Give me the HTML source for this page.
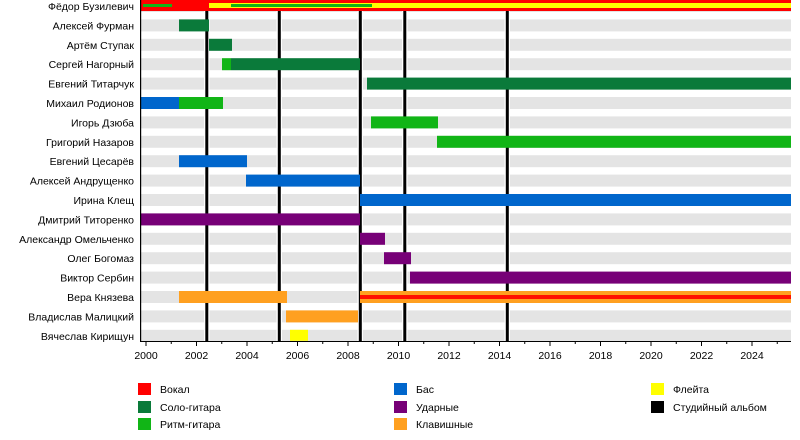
<!DOCTYPE html>
<html><head><meta charset="utf-8"><style>
html,body{margin:0;padding:0;background:#fff;width:800px;height:440px;overflow:hidden}
svg{display:block;font-family:"Liberation Sans",sans-serif;font-size:10.5px}
</style></head><body>
<svg width="800" height="440" viewBox="0 0 800 440">
<g fill="#e4e4e4">
<rect x="141" y="0" width="650" height="12"/><rect x="141" y="19.4" width="650" height="12"/><rect x="141" y="38.8" width="650" height="12"/><rect x="141" y="58.2" width="650" height="12"/><rect x="141" y="77.6" width="650" height="12"/><rect x="141" y="97" width="650" height="12"/><rect x="141" y="116.4" width="650" height="12"/><rect x="141" y="135.8" width="650" height="12"/><rect x="141" y="155.2" width="650" height="12"/><rect x="141" y="174.6" width="650" height="12"/><rect x="141" y="194" width="650" height="12"/><rect x="141" y="213.4" width="650" height="12"/><rect x="141" y="232.8" width="650" height="12"/><rect x="141" y="252.2" width="650" height="12"/><rect x="141" y="271.6" width="650" height="12"/><rect x="141" y="291" width="650" height="12"/><rect x="141" y="310.4" width="650" height="12"/><rect x="141" y="329.8" width="650" height="12"/>
</g>
<g fill="#fff">
<rect x="204" y="0" width="5.5" height="341"/><rect x="276.5" y="0" width="5.5" height="341"/><rect x="357.5" y="0" width="5.5" height="341"/><rect x="402" y="0" width="5.5" height="341"/><rect x="504.5" y="0" width="5.5" height="341"/>
</g>
<g fill="#000">
<rect x="205.3" y="10" width="3" height="331"/><rect x="277.8" y="10" width="3" height="331"/><rect x="358.8" y="10" width="3" height="331"/><rect x="403.3" y="10" width="3" height="331"/><rect x="505.8" y="10" width="3" height="331"/>
</g>
<g>
<rect x="141" y="0" width="650" height="11" fill="#ff0000"/>
<rect x="143" y="4" width="29" height="3" fill="#11b516"/>
<rect x="209" y="3" width="582" height="5" fill="#ffff00"/>
<rect x="231" y="4" width="141" height="3" fill="#11b516"/>
<rect x="179" y="19.4" width="30" height="12" fill="#0a7a3a"/>
<rect x="209" y="38.8" width="23" height="12" fill="#0a7a3a"/>
<rect x="222" y="58.2" width="9" height="12" fill="#11b516"/>
<rect x="231" y="58.2" width="129" height="12" fill="#0a7a3a"/>
<rect x="367" y="77.6" width="424" height="12" fill="#0a7a3a"/>
<rect x="141" y="97" width="38" height="12" fill="#0066cc"/>
<rect x="179" y="97" width="44" height="12" fill="#11b516"/>
<rect x="371" y="116.4" width="67" height="12" fill="#11b516"/>
<rect x="437" y="135.8" width="354" height="12" fill="#11b516"/>
<rect x="179" y="155.2" width="68" height="12" fill="#0066cc"/>
<rect x="246" y="174.6" width="114" height="12" fill="#0066cc"/>
<rect x="360" y="194" width="431" height="12" fill="#0066cc"/>
<rect x="141" y="213.4" width="219" height="12" fill="#770077"/>
<rect x="360" y="232.8" width="25" height="12" fill="#770077"/>
<rect x="384" y="252.2" width="27" height="12" fill="#770077"/>
<rect x="410" y="271.6" width="381" height="12" fill="#770077"/>
<rect x="179" y="291" width="108" height="12" fill="#ffa020"/>
<rect x="360" y="291" width="431" height="12" fill="#ffa020"/>
<rect x="360" y="295" width="431" height="4" fill="#ff1000"/>
<rect x="286" y="310.4" width="72" height="12" fill="#ffa020"/>
<rect x="290" y="329.8" width="18" height="11" fill="#ffff00"/>
</g>
<rect x="140" y="0" width="1.2" height="342" fill="#000"/>
<rect x="140" y="341" width="651" height="1" fill="#000"/>
<g stroke="#000" stroke-width="1">
<line x1="146" y1="341" x2="146" y2="346"/><line x1="171.25" y1="341" x2="171.25" y2="344"/>
<line x1="196.5" y1="341" x2="196.5" y2="346"/><line x1="221.75" y1="341" x2="221.75" y2="344"/>
<line x1="247" y1="341" x2="247" y2="346"/><line x1="272.25" y1="341" x2="272.25" y2="344"/>
<line x1="297.5" y1="341" x2="297.5" y2="346"/><line x1="322.75" y1="341" x2="322.75" y2="344"/>
<line x1="348" y1="341" x2="348" y2="346"/><line x1="373.25" y1="341" x2="373.25" y2="344"/>
<line x1="398.5" y1="341" x2="398.5" y2="346"/><line x1="423.75" y1="341" x2="423.75" y2="344"/>
<line x1="449" y1="341" x2="449" y2="346"/><line x1="474.25" y1="341" x2="474.25" y2="344"/>
<line x1="499.5" y1="341" x2="499.5" y2="346"/><line x1="524.75" y1="341" x2="524.75" y2="344"/>
<line x1="550" y1="341" x2="550" y2="346"/><line x1="575.25" y1="341" x2="575.25" y2="344"/>
<line x1="600.5" y1="341" x2="600.5" y2="346"/><line x1="625.75" y1="341" x2="625.75" y2="344"/>
<line x1="651" y1="341" x2="651" y2="346"/><line x1="676.25" y1="341" x2="676.25" y2="344"/>
<line x1="701.5" y1="341" x2="701.5" y2="346"/><line x1="726.75" y1="341" x2="726.75" y2="344"/>
<line x1="752" y1="341" x2="752" y2="346"/><line x1="777.25" y1="341" x2="777.25" y2="344"/>
</g>
<g text-anchor="middle" fill="#000">
<text x="146" y="359">2000</text><text x="196.5" y="359">2002</text><text x="247" y="359">2004</text><text x="297.5" y="359">2006</text><text x="348" y="359">2008</text><text x="398.5" y="359">2010</text><text x="449" y="359">2012</text><text x="499.5" y="359">2014</text><text x="550" y="359">2016</text><text x="600.5" y="359">2018</text><text x="651" y="359">2020</text><text x="701.5" y="359">2022</text><text x="752" y="359">2024</text>
</g>
<g text-anchor="end" fill="#000">
<text x="134" y="10">Фёдор Бузилевич</text>
<text x="134" y="29.4">Алексей Фурман</text>
<text x="134" y="48.8">Артём Ступак</text>
<text x="134" y="68.2">Сергей Нагорный</text>
<text x="134" y="87.6">Евгений Титарчук</text>
<text x="134" y="107">Михаил Родионов</text>
<text x="134" y="126.4">Игорь Дзюба</text>
<text x="134" y="145.8">Григорий Назаров</text>
<text x="134" y="165.2">Евгений Цесарёв</text>
<text x="134" y="184.6">Алексей Андрущенко</text>
<text x="134" y="204">Ирина Клещ</text>
<text x="134" y="223.4">Дмитрий Титоренко</text>
<text x="134" y="242.8">Александр Омельченко</text>
<text x="134" y="262.2">Олег Богомаз</text>
<text x="134" y="281.6">Виктор Сербин</text>
<text x="134" y="301">Вера Князева</text>
<text x="134" y="320.4">Владислав Малицкий</text>
<text x="134" y="339.8">Вячеслав Кирищун</text>
</g>
<rect x="138" y="383" width="13" height="12" fill="#ff0000"/>
<rect x="138" y="401" width="13" height="12" fill="#0a7a3a"/>
<rect x="138" y="418" width="13" height="12" fill="#11b516"/>
<rect x="394" y="383" width="13" height="12" fill="#0066cc"/>
<rect x="394" y="401" width="13" height="12" fill="#770077"/>
<rect x="394" y="418" width="13" height="12" fill="#ffa020"/>
<rect x="651" y="383" width="13" height="12" fill="#ffff00"/>
<rect x="651" y="401" width="13" height="12" fill="#000"/>
<g fill="#000">
<text x="160" y="393">Вокал</text><text x="160" y="411">Соло-гитара</text><text x="160" y="428">Ритм-гитара</text>
<text x="416" y="393">Бас</text><text x="416" y="411">Ударные</text><text x="416" y="428">Клавишные</text>
<text x="673" y="393">Флейта</text><text x="673" y="411">Студийный альбом</text>
</g>
</svg>
</body></html>
